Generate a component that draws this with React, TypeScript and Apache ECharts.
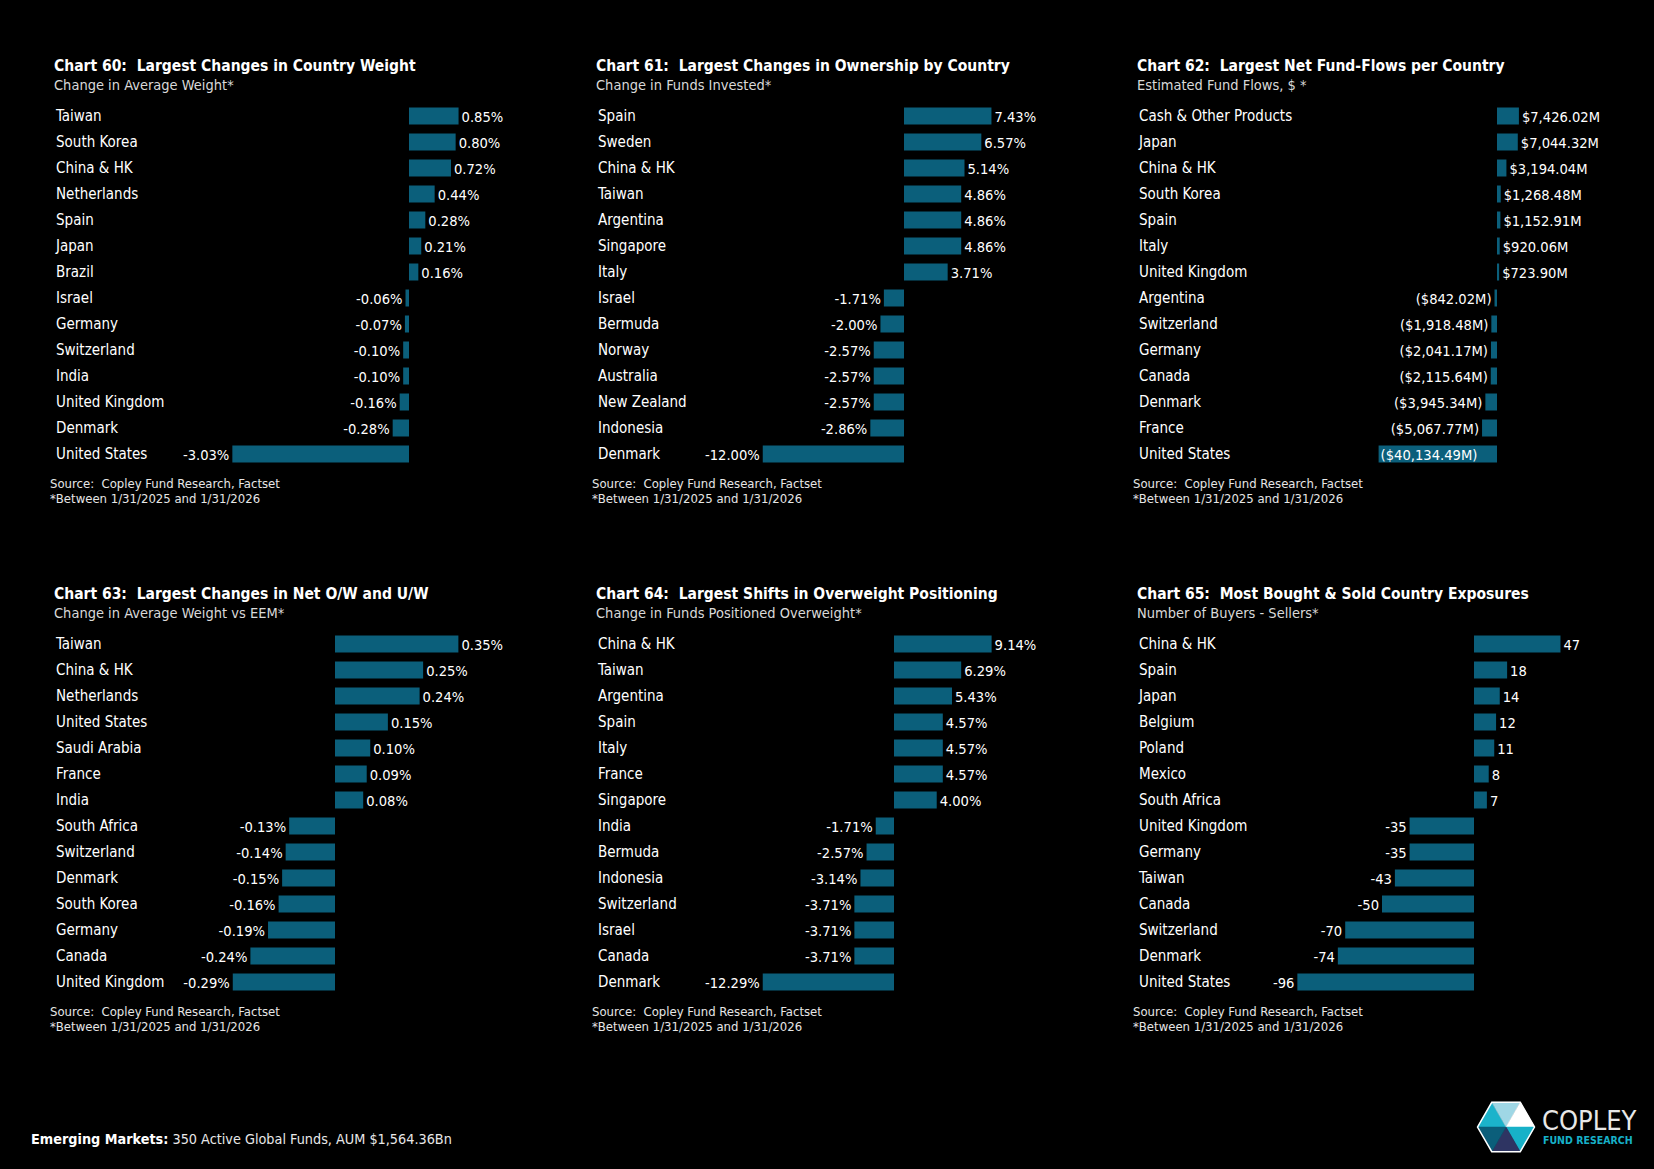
import React, { useEffect, useRef } from "react";
import * as echarts from "echarts";

// ---------- Data ----------
const titles = [
  "Chart 60:  Largest Changes in Country Weight",
  "Chart 61:  Largest Changes in Ownership by Country",
  "Chart 62:  Largest Net Fund-Flows per Country",
  "Chart 63:  Largest Changes in Net O/W and U/W",
  "Chart 64:  Largest Shifts in Overweight Positioning",
  "Chart 65:  Most Bought & Sold Country Exposures",
];
const subtitles = [
  "Change in Average Weight*",
  "Change in Funds Invested*",
  "Estimated Fund Flows, $ *",
  "Change in Average Weight vs EEM*",
  "Change in Funds Positioned Overweight*",
  "Number of Buyers - Sellers*",
];
const sourceLine1 = "Source:  Copley Fund Research, Factset";
const sourceLine2 = "*Between 1/31/2025 and 1/31/2026";

const c60Countries = ["Taiwan", "South Korea", "China & HK", "Netherlands", "Spain", "Japan", "Brazil", "Israel", "Germany", "Switzerland", "India", "United Kingdom", "Denmark", "United States"];
const c60Values = [0.85, 0.8, 0.72, 0.44, 0.28, 0.21, 0.16, -0.06, -0.07, -0.1, -0.1, -0.16, -0.28, -3.03];

const c61Countries = ["Spain", "Sweden", "China & HK", "Taiwan", "Argentina", "Singapore", "Italy", "Israel", "Bermuda", "Norway", "Australia", "New Zealand", "Indonesia", "Denmark"];
const c61Values = [7.43, 6.57, 5.14, 4.86, 4.86, 4.86, 3.71, -1.71, -2.0, -2.57, -2.57, -2.57, -2.86, -12.0];

const c62Countries = ["Cash & Other Products", "Japan", "China & HK", "South Korea", "Spain", "Italy", "United Kingdom", "Argentina", "Switzerland", "Germany", "Canada", "Denmark", "France", "United States"];
const c62Values = [7426.02, 7044.32, 3194.04, 1268.48, 1152.91, 920.06, 723.9, -842.02, -1918.48, -2041.17, -2115.64, -3945.34, -5067.77, -40134.49];

const c63Countries = ["Taiwan", "China & HK", "Netherlands", "United States", "Saudi Arabia", "France", "India", "South Africa", "Switzerland", "Denmark", "South Korea", "Germany", "Canada", "United Kingdom"];
const c63Values = [0.35, 0.25, 0.24, 0.15, 0.1, 0.09, 0.08, -0.13, -0.14, -0.15, -0.16, -0.19, -0.24, -0.29];

const c64Countries = ["China & HK", "Taiwan", "Argentina", "Spain", "Italy", "France", "Singapore", "India", "Bermuda", "Indonesia", "Switzerland", "Israel", "Canada", "Denmark"];
const c64Values = [9.14, 6.29, 5.43, 4.57, 4.57, 4.57, 4.0, -1.71, -2.57, -3.14, -3.71, -3.71, -3.71, -12.29];

const c65Countries = ["China & HK", "Spain", "Japan", "Belgium", "Poland", "Mexico", "South Africa", "United Kingdom", "Germany", "Taiwan", "Canada", "Switzerland", "Denmark", "United States"];
const c65Values = [47, 18, 14, 12, 11, 8, 7, -35, -35, -43, -50, -70, -74, -96];

const footerBold = "Emerging Markets:";
const footerText = "350 Active Global Funds, AUM $1,564.36Bn";

// ---------- Styles / layout ----------
const BAR = "#0b5f7b";
const FONT = '"DejaVu Sans Condensed", "DejaVu Sans", Verdana, sans-serif';
const NARROW = '"Liberation Sans Narrow", "DejaVu Sans Condensed", sans-serif';
const STEP = 26;
const ROW_TOP = [103, 631];
const TITLE_Y = [66, 594];
const SUB_Y = [85, 613];
const SRC_Y = [483, 1011];

const pct = (v: number) => v.toFixed(2) + "%";
const money = (v: number) => {
  const s = "$" + Math.abs(v).toLocaleString("en-US", { minimumFractionDigits: 2, maximumFractionDigits: 2 }) + "M";
  return v < 0 ? "(" + s + ")" : s;
};
const int = (v: number) => String(Math.round(v));

const panels = [
  { cats: c60Countries, vals: c60Values, fmt: pct, col: 0, row: 0, labelX: 56, zeroX: 409, ppu: 58.3, rightX: 530 },
  { cats: c61Countries, vals: c61Values, fmt: pct, col: 1, row: 0, labelX: 598, zeroX: 904, ppu: 11.77, rightX: 1070 },
  { cats: c62Countries, vals: c62Values, fmt: money, col: 2, row: 0, labelX: 1139, zeroX: 1497, ppu: 0.00295, rightX: 1630, insideIdx: 13 },
  { cats: c63Countries, vals: c63Values, fmt: pct, col: 0, row: 1, labelX: 56, zeroX: 335, ppu: 352.5, rightX: 530 },
  { cats: c64Countries, vals: c64Values, fmt: pct, col: 1, row: 1, labelX: 598, zeroX: 894, ppu: 10.68, rightX: 1070 },
  { cats: c65Countries, vals: c65Values, fmt: int, col: 2, row: 1, labelX: 1139, zeroX: 1474, ppu: 1.84, rightX: 1630 },
];

function buildOption() {
  const grid: any[] = [];
  const xAxis: any[] = [];
  const yAxis: any[] = [];
  const series: any[] = [];
  const graphic: any[] = [];

  panels.forEach((p: any, i) => {
    grid.push({ left: p.labelX, width: p.rightX - p.labelX, top: ROW_TOP[p.row], height: STEP * p.cats.length, containLabel: false });
    xAxis.push({
      type: "value",
      gridIndex: i,
      min: -(p.zeroX - p.labelX) / p.ppu,
      max: (p.rightX - p.zeroX) / p.ppu,
      show: false,
      splitLine: { show: false },
    });
    yAxis.push({
      type: "category",
      gridIndex: i,
      inverse: true,
      data: p.cats,
      position: "left",
      axisLine: { show: false, onZero: false },
      axisTick: { show: false },
      splitLine: { show: false },
      axisLabel: { interval: 0, align: "left", margin: 0, color: "#ffffff", fontSize: 15, fontFamily: FONT },
    });
    series.push({
      type: "bar",
      xAxisIndex: i,
      yAxisIndex: i,
      barWidth: 17,
      itemStyle: { color: BAR },
      label: {
        show: true,
        color: "#ffffff",
        fontSize: 14.6,
        fontFamily: FONT,
        distance: 3,
        formatter: (d: any) => p.fmt(d.value),
      },
      data: p.vals.map((v: number, k: number) => ({
        value: v,
        label: { position: p.insideIdx === k ? "insideLeft" : v < 0 ? "left" : "right", distance: p.insideIdx === k ? 2 : 3 },
      })),
    });

    const tx = p.labelX - 2;
    graphic.push({
      type: "text", x: tx, y: TITLE_Y[p.row],
      style: { text: titles[i], fill: "#ffffff", fontSize: 15.5, fontWeight: "bold", fontFamily: FONT, verticalAlign: "middle", align: "left" },
    });
    graphic.push({
      type: "text", x: tx, y: SUB_Y[p.row],
      style: { text: subtitles[i], fill: "#d9d9d9", fontSize: 14.5, fontFamily: FONT, verticalAlign: "middle", align: "left" },
    });
    graphic.push({
      type: "text", x: p.labelX - 6, y: SRC_Y[p.row],
      style: { text: sourceLine1, fill: "#e6e6e6", fontSize: 13, fontFamily: FONT, verticalAlign: "middle", align: "left" },
    });
    graphic.push({
      type: "text", x: p.labelX - 6, y: SRC_Y[p.row] + 15,
      style: { text: sourceLine2, fill: "#e6e6e6", fontSize: 13, fontFamily: FONT, verticalAlign: "middle", align: "left" },
    });
  });

  // footer
  graphic.push({
    type: "text", x: 31, y: 1139,
    style: {
      text: "{b|" + footerBold + "} " + footerText,
      fill: "#e8e8e8", fontSize: 14.3, fontFamily: NARROW, verticalAlign: "middle", align: "left",
      rich: { b: { fontWeight: "bold", fill: "#ffffff", fontSize: 14.3, fontFamily: NARROW } },
    },
  });

  // logo hexagon
  const cx = 1506, cy = 1127, R = 28.5, h = R * Math.sin(Math.PI / 3);
  const C: number[] = [cx, cy];
  const L = [cx - R, cy], UL = [cx - R / 2, cy - h], UR = [cx + R / 2, cy - h];
  const Rt = [cx + R, cy], LR = [cx + R / 2, cy + h], LL = [cx - R / 2, cy + h];
  const tris: [number[][], string][] = [
    [[C, L, UL], "#1bb3cb"],
    [[C, UL, UR], "#9fd7e5"],
    [[C, UR, Rt], "#ffffff"],
    [[C, Rt, LR], "#17b1c8"],
    [[C, LR, LL], "#2e3462"],
    [[C, LL, L], "#0b5e7a"],
  ];
  tris.forEach(([pts, col]) => {
    graphic.push({ type: "polygon", shape: { points: pts }, style: { fill: col, stroke: col, lineWidth: 0.5 } });
  });
  graphic.push({ type: "polygon", shape: { points: [L, UL, UR, Rt, LR, LL] }, style: { fill: "none", stroke: "#ffffff", lineWidth: 1.5 } });
  graphic.push({
    type: "text", x: 1542, y: 1120,
    style: { text: "COPLEY", fill: "#e8e8e8", fontSize: 27, fontFamily: NARROW, verticalAlign: "middle", align: "left" },
  });
  graphic.push({
    type: "text", x: 1543, y: 1140,
    style: { text: "FUND RESEARCH", fill: "#17b1c8", fontSize: 10.5, fontWeight: "bold", fontFamily: FONT, verticalAlign: "middle", align: "left" },
  });

  return {
    animation: false,
    backgroundColor: "#000000",
    grid,
    xAxis,
    yAxis,
    series,
    graphic,
  };
}

export default function App() {
  const ref = useRef<HTMLDivElement>(null);
  useEffect(() => {
    document.body.style.margin = "0";
    document.body.style.background = "#000";
    const chart = echarts.init(ref.current!, null, { renderer: "svg" });
    chart.setOption(buildOption() as any);
    return () => chart.dispose();
  }, []);
  return <div ref={ref} style={{ width: 1654, height: 1169, background: "#000" }} />;
}
